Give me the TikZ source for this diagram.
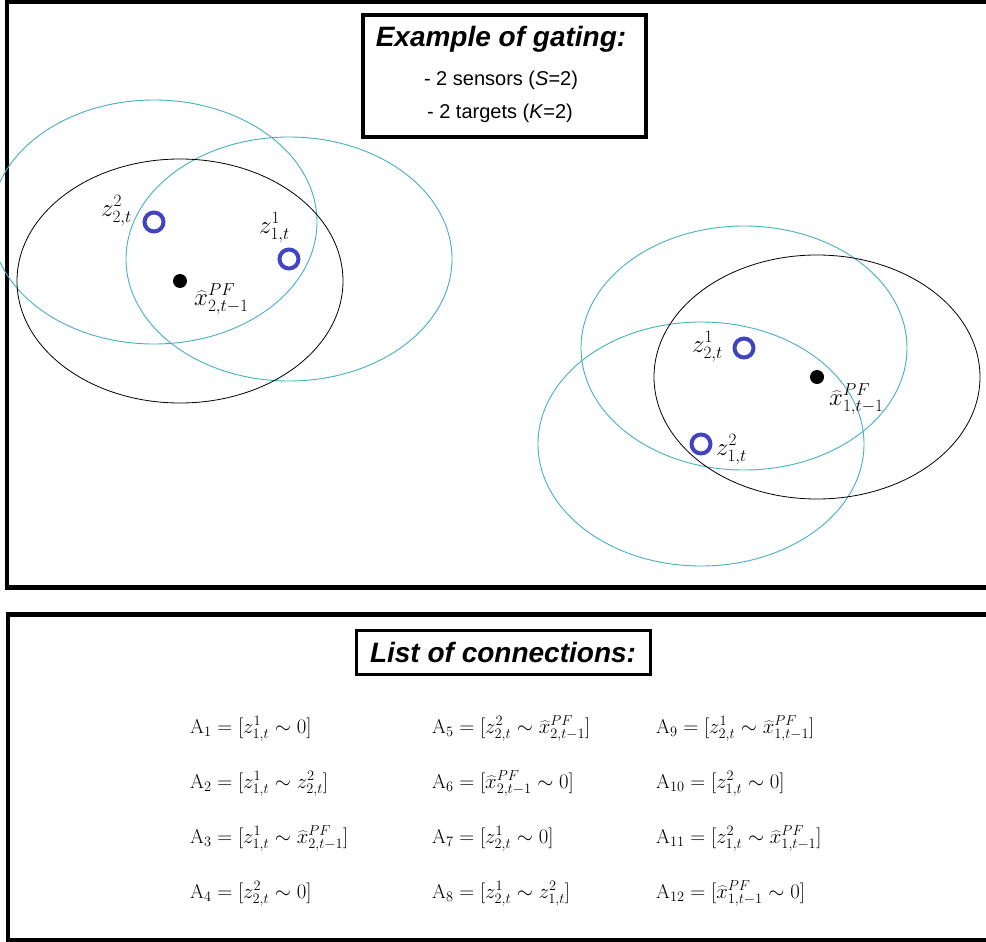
\documentclass[tikz,border=0pt]{standalone}
\usepackage{fontspec}
\newfontfamily\arialf{Liberation Sans}
\definecolor{ellcyan}{RGB}{70,175,195}
\definecolor{measblue}{RGB}{64,68,190}
\begin{document}
\begin{tikzpicture}[x=1pt,y=-1pt,
  cyanell/.style={draw=ellcyan, line width=0.9pt},
  blackell/.style={draw=black, line width=0.8pt},
  meas/.style={circle, draw=measblue, line width=4pt, minimum size=19pt, inner sep=0pt},
  est/.style={circle, fill=black, minimum size=14pt, inner sep=0pt},
  lbl/.style={inner sep=0pt, font=\fontsize{27}{32}\selectfont},
  eqn/.style={anchor=base west, inner sep=0pt, font=\fontsize{20}{24}\selectfont},
  frame/.style={draw=black, line width=4.5pt},
  bigtitle/.style={inner sep=0pt, font=\arialf\bfseries\itshape\fontsize{28}{32}\selectfont},
  subline/.style={inner sep=0pt, anchor=base, font=\arialf\fontsize{20}{24}\selectfont}
]
\useasboundingbox (0,0) rectangle (986,942);
\clip (0,0) rectangle (986,942);
\fill[white] (0,0) rectangle (986,942);

% panels
\draw[frame] (7,1.5) rectangle (1000,587.5);
\draw[frame] (8,614.5) rectangle (1000,940);

% gating title box
\node[draw, line width=3.5pt, minimum width=283pt, minimum height=122pt, inner sep=0pt] (gatebox) at (504.5,76) {};
\node[bigtitle, anchor=base] (gatetitle) at (501,47) {Example of gating:};
\node[subline] (sensors) at (501,85) {- 2 sensors (\textit{S}=2)};
\node[subline] (targets) at (500,118) {- 2 targets (\textit{K}=2)};

% left group points
\node[meas] (z22) at (154,222) {};
\node[meas] (z11) at (289,259) {};
\node[est] (x2) at (180,281) {};
% right group points
\node[meas] (z21) at (744,348) {};
\node[meas] (z12) at (701,444) {};
\node[est] (x1) at (817,377) {};

% gates
\draw[cyanell] (z22) ellipse [x radius=163pt, y radius=122pt];
\draw[cyanell] (z11) ellipse [x radius=163pt, y radius=122pt];
\draw[blackell] (x2) ellipse [x radius=163pt, y radius=122pt];
\draw[cyanell] (z21) ellipse [x radius=163pt, y radius=122pt];
\draw[cyanell] (z12) ellipse [x radius=163pt, y radius=122pt];
\draw[blackell] (x1) ellipse [x radius=163pt, y radius=122pt];

% labels
\node[lbl, anchor=base east] (lz22) at (132,216) {$z^{2}_{2,t}$};
\node[lbl, anchor=base west] (lz11) at (259,233) {$z^{1}_{1,t}$};
\node[lbl, anchor=base west] (lx2) at (194,305) {$\widehat{x}^{PF}_{2,t-1}$};
\node[lbl, anchor=base west] (lz21) at (692,352) {$z^{1}_{2,t}$};
\node[lbl, anchor=base west] (lx1) at (829,405) {$\widehat{x}^{PF}_{1,t-1}$};
\node[lbl, anchor=base west] (lz12) at (716,455) {$z^{2}_{1,t}$};

% list of connections
\node[draw, line width=3pt, minimum width=294pt, minimum height=44pt, inner sep=0pt, bigtitle] (listtitle) at (503,652) {List of connections:};

\node[eqn] (a1) at (190,733) {$\mathrm{A}_1=[z^1_{1,t}\sim 0]$};
\node[eqn] (a2) at (190,788) {$\mathrm{A}_2=[z^1_{1,t}\sim z^2_{2,t}]$};
\node[eqn] (a3) at (190,843) {$\mathrm{A}_3=[z^1_{1,t}\sim \widehat{x}^{PF}_{2,t-1}]$};
\node[eqn] (a4) at (190,898) {$\mathrm{A}_4=[z^2_{2,t}\sim 0]$};
\node[eqn] (a5) at (432,733) {$\mathrm{A}_5=[z^2_{2,t}\sim \widehat{x}^{PF}_{2,t-1}]$};
\node[eqn] (a6) at (432,788) {$\mathrm{A}_6=[\widehat{x}^{PF}_{2,t-1}\sim 0]$};
\node[eqn] (a7) at (432,843) {$\mathrm{A}_7=[z^1_{2,t}\sim 0]$};
\node[eqn] (a8) at (432,898) {$\mathrm{A}_8=[z^1_{2,t}\sim z^2_{1,t}]$};
\node[eqn] (a9) at (656,733) {$\mathrm{A}_9=[z^1_{2,t}\sim \widehat{x}^{PF}_{1,t-1}]$};
\node[eqn] (a10) at (656,788) {$\mathrm{A}_{10}=[z^2_{1,t}\sim 0]$};
\node[eqn] (a11) at (656,843) {$\mathrm{A}_{11}=[z^2_{1,t}\sim \widehat{x}^{PF}_{1,t-1}]$};
\node[eqn] (a12) at (656,898) {$\mathrm{A}_{12}=[\widehat{x}^{PF}_{1,t-1}\sim 0]$};
\end{tikzpicture}
\end{document}
